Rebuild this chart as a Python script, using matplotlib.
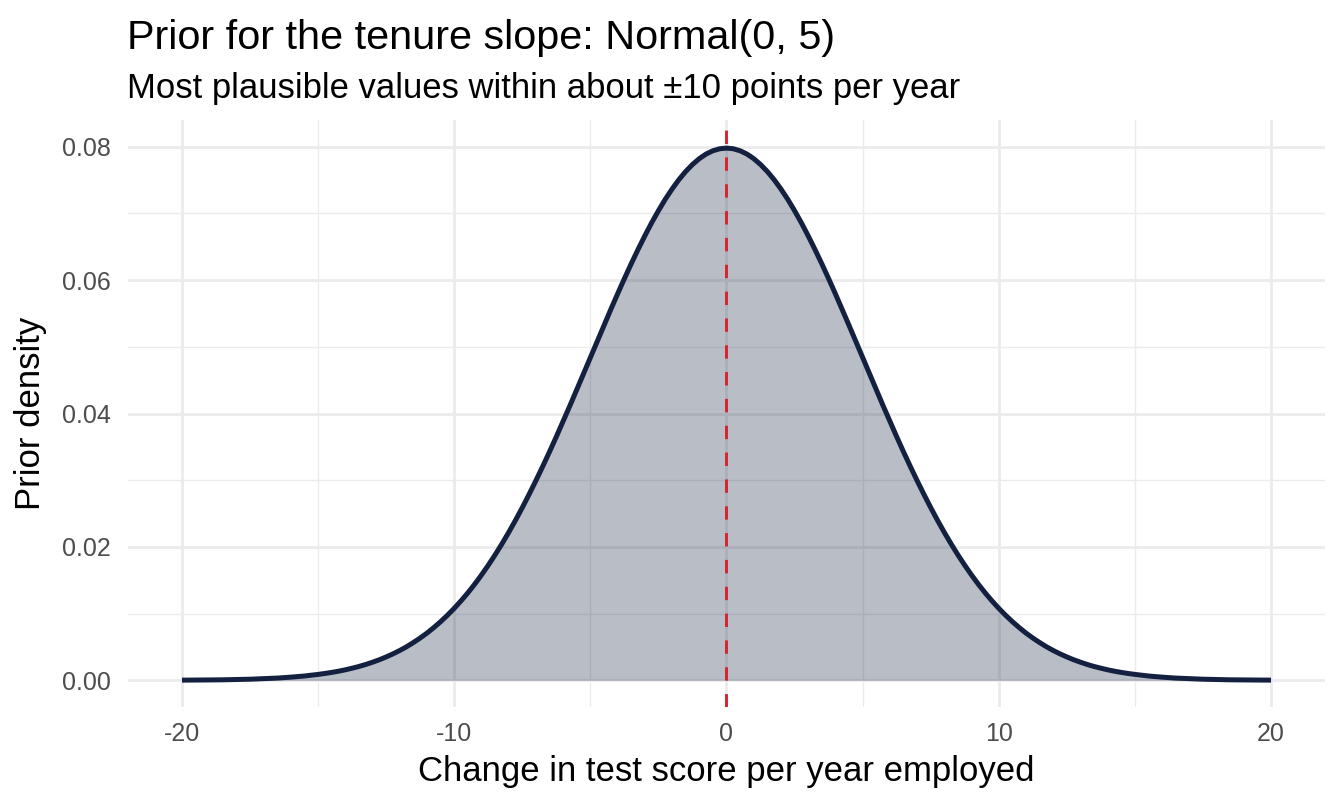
import numpy as np
import matplotlib.pyplot as plt
from matplotlib.ticker import MultipleLocator

# x grid for the curve: 0.5 steps in the tails, 0.25 steps in the body
x_vals = np.concatenate([
    np.arange(-20, -15, 0.5),
    np.arange(-15, 15.01, 0.25),
    np.arange(15.5, 20.01, 0.5),
])
# prior density at each x
density = [
    0.00003, 0.00004, 0.00006, 0.00008, 0.00012, 0.00017, 0.00025, 0.00034,
    0.00048, 0.00065,
    0.00089, 0.00103, 0.00119, 0.00137, 0.00158, 0.00182, 0.00208, 0.00238,
    0.00272, 0.00309, 0.00351, 0.00397, 0.00448, 0.00504, 0.00567, 0.00635,
    0.00709, 0.00791, 0.00880, 0.00976, 0.01080, 0.01192, 0.01312, 0.01441,
    0.01579, 0.01726, 0.01881, 0.02045, 0.02218, 0.02400, 0.02590, 0.02789,
    0.02995, 0.03208, 0.03427, 0.03653, 0.03884, 0.04119, 0.04357, 0.04598,
    0.04839, 0.05081, 0.05322, 0.05560, 0.05794, 0.06023, 0.06245, 0.06459,
    0.06664, 0.06859, 0.07041, 0.07211, 0.07365, 0.07505, 0.07628, 0.07733,
    0.07821, 0.07890, 0.07939, 0.07969,
    0.07979,
    0.07969, 0.07939, 0.07890, 0.07821, 0.07733, 0.07628, 0.07505, 0.07365,
    0.07211, 0.07041, 0.06859, 0.06664, 0.06459, 0.06245, 0.06023, 0.05794,
    0.05560, 0.05322, 0.05081, 0.04839, 0.04598, 0.04357, 0.04119, 0.03884,
    0.03653, 0.03427, 0.03208, 0.02995, 0.02789, 0.02590, 0.02400, 0.02218,
    0.02045, 0.01881, 0.01726, 0.01579, 0.01441, 0.01312, 0.01192, 0.01080,
    0.00976, 0.00880, 0.00791, 0.00709, 0.00635, 0.00567, 0.00504, 0.00448,
    0.00397, 0.00351, 0.00309, 0.00272, 0.00238, 0.00208, 0.00182, 0.00158,
    0.00137, 0.00119, 0.00103, 0.00089,
    0.00065, 0.00048, 0.00034, 0.00025, 0.00017, 0.00012, 0.00008, 0.00006,
    0.00004, 0.00003,
]
prior_mean = 0
x_ticks = [-20, -10, 0, 10, 20]
x_labels = ['-20', '-10', '0', '10', '20']
y_ticks = [0.00, 0.02, 0.04, 0.06, 0.08]
y_labels = ['0.00', '0.02', '0.04', '0.06', '0.08']

plt.rcParams['font.family'] = ['Liberation Sans', 'DejaVu Sans']

fig = plt.figure(figsize=(13.44, 8.06), dpi=100)
ax = fig.add_axes([0.0949, 0.1228, 0.8913, 0.7283])

ax.fill_between(x_vals, density, 0, color='#1b2a4a', alpha=0.31, lw=0, zorder=2)
ax.plot(x_vals, density, color='#13203f', lw=3.6, zorder=3,
        solid_joinstyle='round', solid_capstyle='butt')
ax.axvline(prior_mean, color='#d32530', lw=2.1, ls=(0, (4.6, 4.6)), zorder=4)

ax.set_xlim(-22, 22)
ax.set_ylim(-0.004, 0.084)
ax.set_xticks(x_ticks)
ax.set_xticklabels(x_labels)
ax.set_yticks(y_ticks)
ax.set_yticklabels(y_labels)
ax.xaxis.set_minor_locator(MultipleLocator(5))
ax.yaxis.set_minor_locator(MultipleLocator(0.01))

ax.grid(which='major', color='#ebebeb', lw=2.0, zorder=0)
ax.grid(which='minor', color='#ebebeb', lw=1.0, zorder=0)
ax.set_axisbelow(True)
for s in ax.spines.values():
    s.set_visible(False)
ax.tick_params(which='both', length=0)
ax.tick_params(axis='both', labelsize=18, labelcolor='#4d4d4d')
ax.tick_params(axis='x', pad=11)
ax.tick_params(axis='y', pad=12)

ax.set_xlabel('Change in test score per year employed', fontsize=25)
ax.set_ylabel('Prior density', fontsize=25)
ax.xaxis.set_label_coords(0.5, -0.081)
ax.yaxis.set_label_coords(-0.067, 0.5)

fig.text(0.0945, 0.939, 'Prior for the tenure slope: Normal(0, 5)', fontsize=29.8, va='baseline')
fig.text(0.0945, 0.878, 'Most plausible values within about \u00b110 points per year', fontsize=24.9, va='baseline')

fig.savefig('out.png', dpi=100)
